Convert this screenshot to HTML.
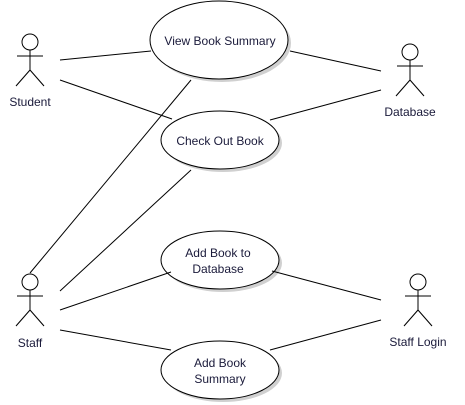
<!DOCTYPE html>
<html><head><style>body{margin:0;background:#fff}svg{display:block}text{font-family:"Liberation Sans",sans-serif;font-size:12px;fill:#1a1a3a;text-anchor:middle}</style></head><body>
<svg width="465" height="405" viewBox="0 0 465 405">
<defs>
<g id="actor" stroke="#000" stroke-width="1" fill="none">
<circle cx="0" cy="0" r="8"/><line x1="0" y1="8" x2="0" y2="28"/><line x1="-13" y1="14" x2="13" y2="14"/><line x1="0" y1="28" x2="-14" y2="44"/><line x1="0" y1="28" x2="14" y2="44"/>
</g>
</defs>
<rect width="465" height="405" fill="#fff"/>
<g fill="#d0d0d0">
<ellipse cx="222" cy="43" rx="69" ry="39"/>
<ellipse cx="223" cy="143" rx="59" ry="29"/>
<ellipse cx="223" cy="263" rx="59" ry="29"/>
<ellipse cx="223" cy="373" rx="59" ry="29"/>
</g>
<g stroke="#000" stroke-width="1" fill="#fff">
<ellipse cx="219" cy="40" rx="69" ry="39"/>
<ellipse cx="220" cy="140" rx="59" ry="29"/>
<ellipse cx="220" cy="260" rx="59" ry="29"/>
<ellipse cx="220" cy="370" rx="59" ry="29"/>
</g>
<g stroke="#000" stroke-width="1">
<line x1="60" y1="60" x2="151" y2="51"/>
<line x1="60" y1="80" x2="172" y2="119"/>
<line x1="191" y1="80" x2="30" y2="273"/>
<line x1="191" y1="170" x2="60" y2="291"/>
<line x1="60" y1="310" x2="171" y2="272"/>
<line x1="60" y1="330" x2="171" y2="350"/>
<line x1="381" y1="300" x2="272" y2="271"/>
<line x1="381" y1="320" x2="270" y2="350"/>
<line x1="290" y1="51" x2="381" y2="71"/>
<line x1="270" y1="120" x2="381" y2="90"/>
</g>
<use href="#actor" x="30" y="42"/>
<use href="#actor" x="410" y="52"/>
<use href="#actor" x="30" y="282"/>
<use href="#actor" x="418" y="282"/>
<text x="30" y="106">Student</text>
<text x="410" y="116">Database</text>
<text x="30" y="347">Staff</text>
<text x="418" y="346">Staff Login</text>
<text x="220" y="45">View Book Summary</text>
<text x="220" y="145">Check Out Book</text>
<text x="218" y="257">Add Book to</text>
<text x="218" y="273">Database</text>
<text x="220" y="367">Add Book</text>
<text x="220" y="383">Summary</text>
</svg>
</body></html>
